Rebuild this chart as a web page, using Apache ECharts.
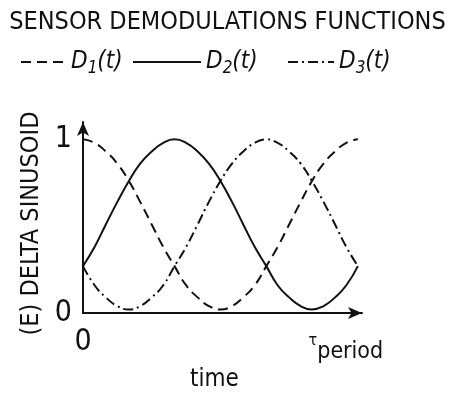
<!DOCTYPE html>
<html>
<head>
<meta charset="utf-8">
<script src="https://cdn.jsdelivr.net/npm/echarts@6/dist/echarts.min.js"></script>
<style>
  html, body { margin: 0; padding: 0; background: #fff; }
  #chart { width: 455px; height: 400px; }
</style>
</head>
<body>
<div id="chart"></div>
<script>
// time as a fraction of one period
let times = [0, 0.042, 0.083, 0.125, 0.167, 0.208, 0.25, 0.292, 0.333, 0.375, 0.417, 0.458, 0.5,
  0.542, 0.583, 0.625, 0.667, 0.708, 0.75, 0.792, 0.833, 0.875, 0.917, 0.958, 1]
// demodulation functions
let d1 = [1.00, 0.98, 0.93, 0.86, 0.76, 0.64, 0.51, 0.38, 0.27, 0.16, 0.09, 0.04, 0.02,
  0.04, 0.09, 0.16, 0.27, 0.38, 0.51, 0.64, 0.76, 0.86, 0.93, 0.98, 1.00]
let d2 = [0.27, 0.38, 0.51, 0.64, 0.76, 0.86, 0.93, 0.98, 1.00, 0.98, 0.93, 0.86, 0.76,
  0.64, 0.51, 0.38, 0.27, 0.16, 0.09, 0.04, 0.02, 0.04, 0.09, 0.16, 0.27]
let d3 = [0.27, 0.16, 0.09, 0.04, 0.02, 0.04, 0.09, 0.16, 0.27, 0.38, 0.51, 0.64, 0.76,
  0.86, 0.93, 0.98, 1.00, 0.98, 0.93, 0.86, 0.76, 0.64, 0.51, 0.38, 0.27]
let names = ['D1(t)', 'D2(t)', 'D3(t)']

let narrow = "'Liberation Sans Narrow', 'DejaVu Sans Condensed', sans-serif"
let ink = '#111'

let myChart = echarts.init(document.getElementById('chart'))

function pts(vals) {
  return times.map((t, i) => [t, vals[i]])
}

function legendAt(name, left, width) {
  return {
    data: [name],
    left: left,
    top: 50,
    padding: 0,
    itemWidth: width,
    itemHeight: 14,
    itemStyle: { opacity: 0 },
    formatter: n => '{d|D}{s|' + n.charAt(1) + '}{d|(t)}',
    textStyle: {
      color: ink,
      rich: {
        d: { fontFamily: narrow, fontStyle: 'italic', fontSize: 24, color: ink },
        s: { fontFamily: narrow, fontStyle: 'italic', fontSize: 17, color: ink, padding: [14, 0, 0, 0] }
      }
    }
  }
}

function line(name, vals, type) {
  return {
    name: name,
    type: 'line',
    smooth: true,
    symbol: 'none',
    data: pts(vals),
    lineStyle: { color: ink, width: 2, type: type },
    itemStyle: { color: ink }
  }
}

let option = {
  backgroundColor: '#fff',
  animation: false,
  title: {
    text: 'SENSOR DEMODULATIONS FUNCTIONS',
    left: 'center',
    top: 10,
    padding: 0,
    textStyle: { fontFamily: narrow, fontSize: 25, fontWeight: 'normal', color: ink }
  },
  legend: [
    legendAt(names[0], 20, 45),
    legendAt(names[1], 132, 68),
    legendAt(names[2], 287, 46)
  ],
  grid: { left: 83, right: 93, top: 122, bottom: 87, outerBoundsMode: 'none' },
  xAxis: {
    type: 'value',
    min: 0,
    max: 1.015,
    interval: 1,
    name: 'time',
    nameLocation: 'middle',
    nameGap: 55,
    nameTextStyle: { fontFamily: narrow, fontSize: 24, color: ink, padding: [0, 16, 0, 0] },
    axisLine: { lineStyle: { color: ink, width: 2 }, symbol: ['none', 'arrow'], symbolSize: [9, 14] },
    axisTick: { show: false },
    splitLine: { show: false },
    axisLabel: {
      margin: 14,
      fontFamily: narrow,
      fontSize: 30,
      color: ink,
      formatter: v => v === 0 ? '0' : (v === 1 ? '{t|τ}{p|period}' : ''),
      rich: {
        t: { fontFamily: narrow, fontSize: 16, color: ink, padding: [0, 0, 10, 0] },
        p: { fontFamily: narrow, fontSize: 23, color: ink, padding: [14, 24, 0, 0] }
      }
    }
  },
  yAxis: {
    type: 'value',
    min: 0,
    max: 1.1,
    interval: 1,
    name: '(E) DELTA SINUSOID',
    nameLocation: 'middle',
    nameGap: 38,
    nameTextStyle: { fontFamily: narrow, fontSize: 25, color: ink, padding: [0, 12, 0, 0] },
    axisLine: { show: true, lineStyle: { color: ink, width: 2 }, symbol: ['none', 'arrow'], symbolSize: [9, 14] },
    axisTick: { show: false },
    splitLine: { show: false },
    axisLabel: {
      margin: 11,
      fontFamily: narrow,
      fontSize: 30,
      color: ink,
      formatter: v => (v === 0 || v === 1) ? String(v) : ''
    }
  },
  series: [
    line(names[0], d1, [10, 6]),
    line(names[1], d2, 'solid'),
    line(names[2], d3, [10, 4, 2, 4])
  ]
}

myChart.setOption(option)
</script>
</body>
</html>
